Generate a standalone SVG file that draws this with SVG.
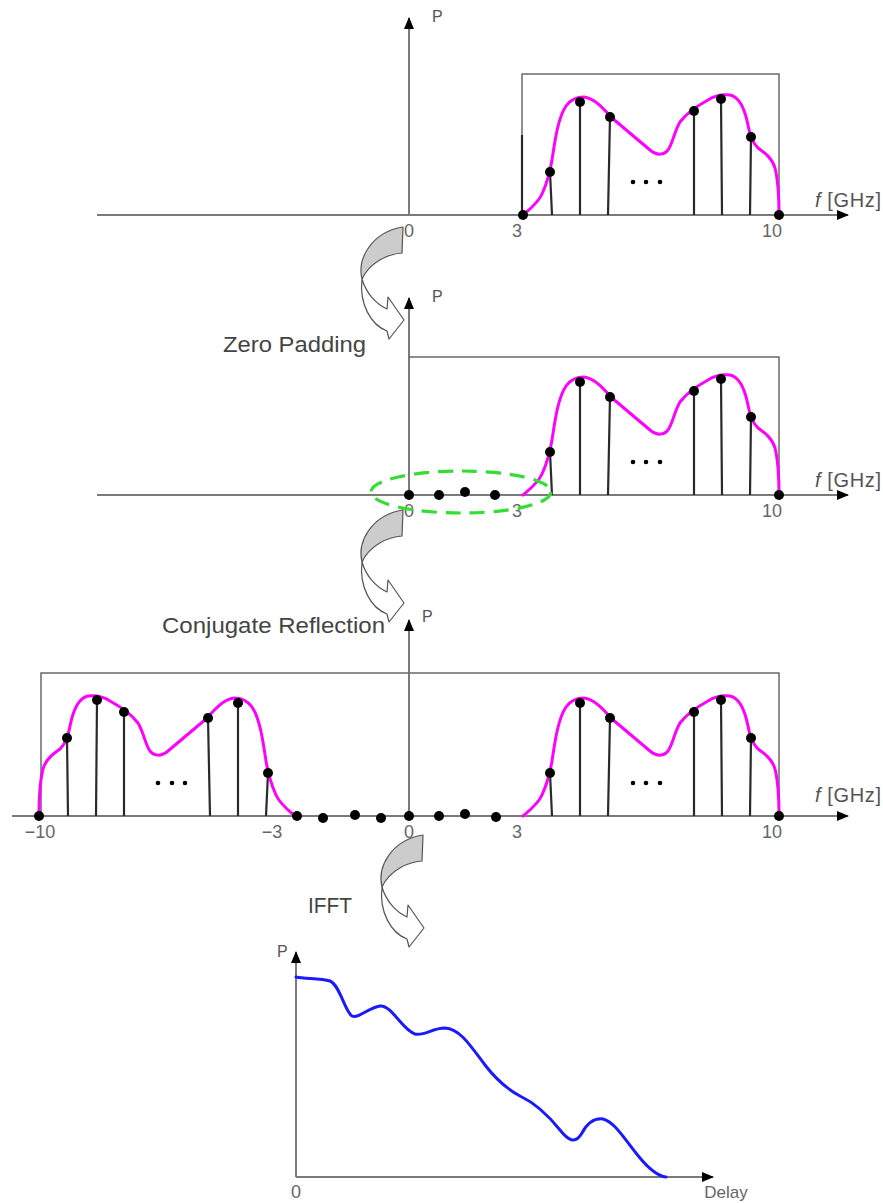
<svg xmlns="http://www.w3.org/2000/svg" xmlns:xlink="http://www.w3.org/1999/xlink" width="883" height="1203" viewBox="0 0 883 1203">
<style>
.axis{stroke:#7a7a7a;stroke-width:2;fill:none}
.frame{stroke:#6a6a6a;stroke-width:1.5;fill:none}
.stem{stroke:#2a2a2a;stroke-width:2.2;fill:none}
.spec{stroke:#ff00ff;stroke-width:3;fill:none;stroke-linecap:round}
.ir{stroke:#1a1aff;stroke-width:3;fill:none;stroke-linecap:round}
.dot{fill:#000}
.num{font-family:"Liberation Sans",Arial,sans-serif;font-size:18px;fill:#666;text-anchor:middle}
.plab{font-family:"Liberation Sans",Arial,sans-serif;font-size:16px;fill:#555}
.flab{font-family:"Liberation Sans",Arial,sans-serif;font-size:20px;fill:#555}
.lab{font-family:"Liberation Sans",Arial,sans-serif;font-size:22px;fill:#444}
.gray{fill:#cccccc;stroke:#555;stroke-width:1.2;stroke-linejoin:round}
.white{fill:#fff;stroke:#555;stroke-width:1.2;stroke-linejoin:round}
</style>
<defs>
<marker id="ah" viewBox="0 0 12 10" refX="11" refY="5" markerWidth="12" markerHeight="10" markerUnits="userSpaceOnUse" orient="auto">
<path d="M0,0 L12,5 L0,10 Z" fill="#000"/>
</marker>
<g id="band">
<path class="stem" d="M550,172 L552,215 M580,102 L580,215 M610,117 L608,215 M694,111 L694,215 M721,99 L722,215 M751,137 L750,215"/>
<path class="spec" d="M523,215 C530,209 538,203 542,194 C547,183 550,172 552,160 C555,140 558,118 566,106 C571,99 577,97 584,97 C594,98 603,108 612,118 C625,129 638,140 650,150 C657,156 664,155 668,150 C673,143 674,132 680,122 C686,114 697,106 708,100 C714,96 722,94 730,95 C740,97 745,110 748,125 C750,135 752,142 758,148 C765,153 772,158 775,168 C778,180 779,195 779,215"/>
<circle class="dot" cx="550" cy="172" r="5"/>
<circle class="dot" cx="580" cy="102" r="5"/>
<circle class="dot" cx="610" cy="117" r="5"/>
<circle class="dot" cx="694" cy="111" r="5"/>
<circle class="dot" cx="721" cy="99" r="5"/>
<circle class="dot" cx="751" cy="137" r="5"/>
<circle class="dot" cx="779" cy="215" r="5"/>
<circle class="dot" cx="633" cy="182" r="2.3"/>
<circle class="dot" cx="646" cy="182" r="2.3"/>
<circle class="dot" cx="660" cy="182" r="2.3"/>
</g>
<g id="curvedArrow">
<path class="gray" d="M403,227 L402,253 C388,254 370,262 362,279 C357,258 372,232 403,227 Z"/>
<path class="white" d="M362,279 C366,293 376,304 387,309 L388,297 L404,320 L389,339 L387,331 C371,325 359,304 362,279 Z"/>
</g>
</defs>

<g id="panel1">
<line class="axis" x1="97" y1="215" x2="848" y2="215" marker-end="url(#ah)"/>
<line class="axis" x1="409" y1="215" x2="409" y2="18" marker-end="url(#ah)"/>
<polyline class="frame" points="522,215 522,74 779,74 779,215"/>
<line class="stem" x1="522" y1="135" x2="522" y2="215"/>
<use xlink:href="#band"/>
<circle class="dot" cx="523" cy="215" r="5"/>
<text class="plab" x="432" y="22">P</text>
<text class="num" x="409" y="237">0</text>
<text class="num" x="517" y="237">3</text>
<text class="num" x="772" y="237">10</text>
<text class="flab" x="815" y="207" textLength="66" lengthAdjust="spacing"><tspan font-style="italic">f</tspan> [GHz]</text>
</g>

<g id="panel2">
<line class="axis" x1="97" y1="495" x2="848" y2="495" marker-end="url(#ah)"/>
<line class="axis" x1="409" y1="495" x2="409" y2="298" marker-end="url(#ah)"/>
<polyline class="frame" points="409,357 779,357 779,495"/>
<use xlink:href="#band" transform="translate(0,280)"/>
<circle class="dot" cx="409" cy="495" r="5"/>
<circle class="dot" cx="439" cy="495" r="5"/>
<circle class="dot" cx="465" cy="492" r="5"/>
<circle class="dot" cx="495" cy="495" r="5"/>
<text class="plab" x="432" y="302">P</text>
<text class="num" x="409" y="517">0</text>
<text class="num" x="517" y="517">3</text>
<text class="num" x="772" y="517">10</text>
<text class="flab" x="815" y="487" textLength="66" lengthAdjust="spacing"><tspan font-style="italic">f</tspan> [GHz]</text>
<ellipse cx="461" cy="492" rx="90" ry="21" fill="none" stroke="#33dd33" stroke-width="3.2" stroke-dasharray="15 9"/>
</g>

<g id="panel3">
<line class="axis" x1="12" y1="816" x2="848" y2="816" marker-end="url(#ah)"/>
<line class="axis" x1="409" y1="816" x2="409" y2="620" marker-end="url(#ah)"/>
<polyline class="frame" points="41,816 41,673 779,673 779,816"/>
<use xlink:href="#band" transform="translate(0,601)"/>
<use xlink:href="#band" transform="translate(818,601) scale(-1,1)"/>
<circle class="dot" cx="297" cy="816" r="5"/>
<circle class="dot" cx="323" cy="818" r="5"/>
<circle class="dot" cx="355" cy="815" r="5"/>
<circle class="dot" cx="381" cy="818" r="5"/>
<circle class="dot" cx="409" cy="816" r="5"/>
<circle class="dot" cx="439" cy="816" r="5"/>
<circle class="dot" cx="465" cy="814" r="5"/>
<circle class="dot" cx="496" cy="817" r="5"/>
<text class="plab" x="422" y="622">P</text>
<text class="num" x="40" y="838">−10</text>
<text class="num" x="272" y="838">−3</text>
<text class="num" x="409" y="838">0</text>
<text class="num" x="517" y="838">3</text>
<text class="num" x="772" y="838">10</text>
<text class="flab" x="815" y="802" textLength="66" lengthAdjust="spacing"><tspan font-style="italic">f</tspan> [GHz]</text>
</g>

<g id="panel4">
<line class="axis" x1="296" y1="1177" x2="713" y2="1177" marker-end="url(#ah)"/>
<line class="axis" x1="296" y1="1177" x2="296" y2="952" marker-end="url(#ah)"/>
<path class="ir" d="M296,977 C305,979 320,978 330,981 C340,985 345,1012 352,1016 C358,1019 368,1008 380,1006 C392,1005 402,1030 415,1034 C425,1036 432,1028 445,1028 C460,1029 470,1045 485,1065 C495,1078 505,1088 520,1096 C535,1103 548,1115 560,1130 C568,1140 575,1145 582,1133 C588,1122 595,1118 603,1119 C615,1122 625,1140 640,1158 C650,1170 658,1176 666,1177"/>
<text class="plab" x="277" y="957">P</text>
<text class="num" x="296" y="1198">0</text>
<text class="num" x="726" y="1198" style="font-size:17px">Delay</text>
</g>

<g id="connectors">
<use xlink:href="#curvedArrow"/>
<use xlink:href="#curvedArrow" transform="translate(0,283)"/>
<use xlink:href="#curvedArrow" transform="translate(20,608)"/>
</g>

<g id="labels">
<text class="lab" x="223" y="352" textLength="143" lengthAdjust="spacingAndGlyphs">Zero Padding</text>
<text class="lab" x="162" y="633" textLength="223" lengthAdjust="spacingAndGlyphs">Conjugate Reflection</text>
<text class="lab" x="308" y="913" textLength="44" lengthAdjust="spacingAndGlyphs">IFFT</text>
</g>
</svg>
